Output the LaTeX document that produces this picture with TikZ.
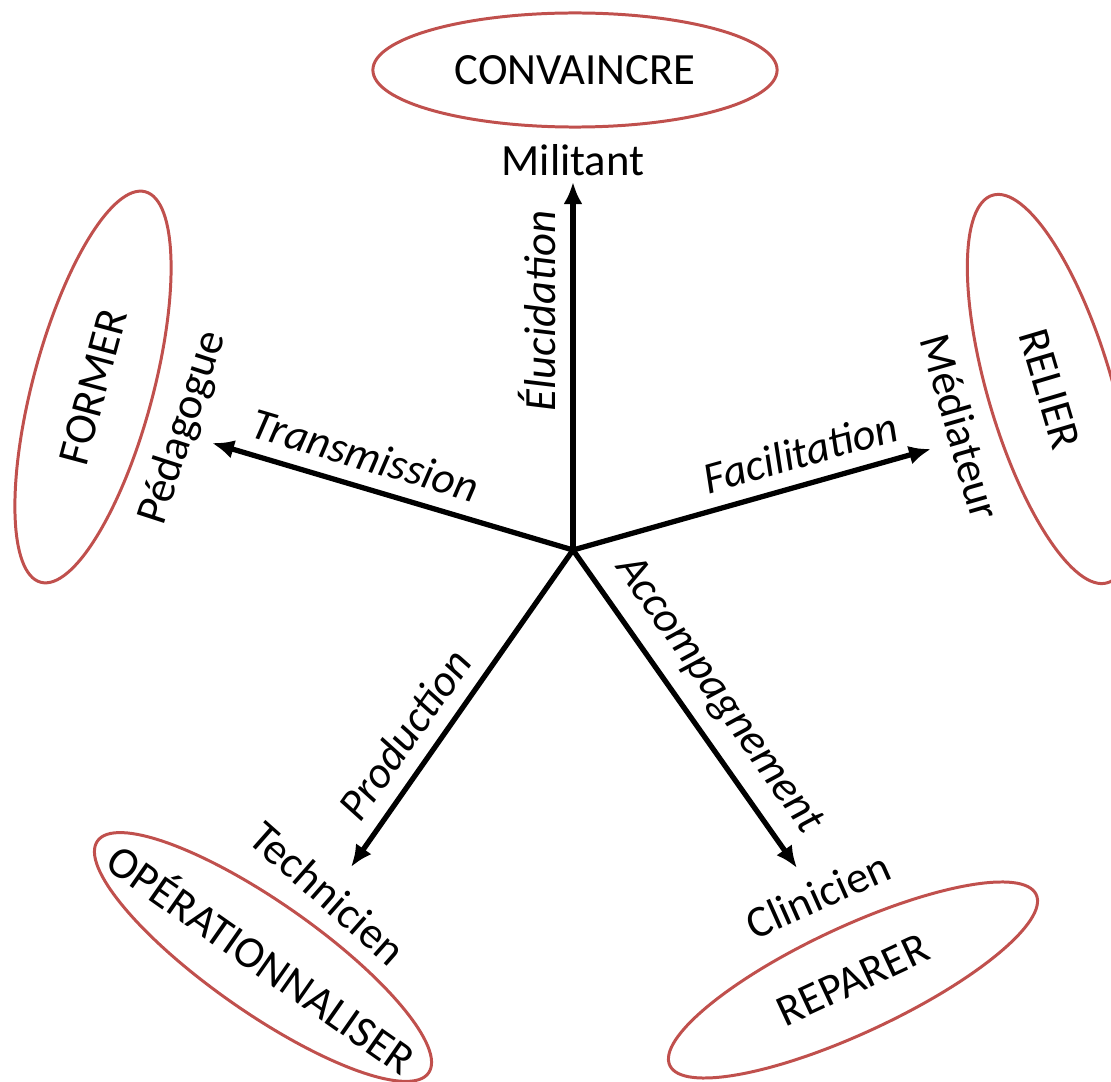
\documentclass[tikz,border=0pt]{standalone}
\usepackage{fontspec}
\setmainfont{Carlito}
\usepackage{xcolor}
\usetikzlibrary{shapes.geometric,arrows.meta,positioning}
\definecolor{ovalred}{HTML}{C0504D}

\begin{document}
\begin{tikzpicture}[x=0.01cm, y=-0.01cm,
    goal/.style={draw=ovalred, line width=0.85pt, ellipse, inner sep=0pt,
        minimum width=4.04cm, minimum height=1.14cm, font=\fontsize{12.7}{15}\selectfont},
    role/.style={inner sep=0pt, font=\fontsize{12.7}{15}\selectfont},
    axis/.style={line width=1.5pt, -{Latex[length=0.22cm, width=0.19cm]}},
    act/.style={sloped, above, inner sep=4pt, font=\fontsize{12.7}{15}\selectfont\itshape}]
    \useasboundingbox (0,0) rectangle (1111,1082);

    % Goals
    \node[goal] (convaincre) at (575,70) {\makebox[0pt]{CONVAINCRE}};
    \node[goal, rotate=75, minimum height=1.2cm] (former) at (93,387) {\makebox[0pt]{FORMER}};
    \node[goal, rotate=-73.5, minimum height=1.24cm] (relier) at (1050,389) {\makebox[0pt]{RELIER}};
    \node[goal, rotate=-35, minimum height=1.1cm] (operationnaliser) at (263,957) {\makebox[0pt]{OPÉRATIONNALISER}};
    \node[goal, rotate=25, minimum height=1.06cm] (reparer) at (853,980) {\makebox[0pt]{REPARER}};

    % Roles
    \node[role] (militant) at (573,160) {Militant};
    \node[role, rotate=72] (pedagogue) at (183,428) {Pédagogue};
    \node[role, rotate=-74] (mediateur) at (961,427) {Médiateur};
    \node[role, rotate=-41.5] (technicien) at (328,893) {Technicien};
    \node[role, rotate=24] (clinicien) at (818,895) {Clinicien};

    % Axes
    \coordinate (o) at (573,550);
    \coordinate (tipN) at (573,182);
    \coordinate (tipW) at (212,443);
    \coordinate (tipE) at (931,449);
    \coordinate (tipSW) at (351,867);
    \coordinate (tipSE) at (797,868);

    \draw[axis] (o) -- node[act, pos=0.65] {Élucidation} (tipN);
    \draw[axis] (o) -- node[act, pos=0.6] {Transmission} (tipW);
    \draw[axis] (o) -- node[act, pos=0.66] {Facilitation} (tipE);
    \draw[axis] (o) -- node[act, pos=0.64] {Production} (tipSW);
    \draw[axis] (o) -- node[act, pos=0.52] {Accompagnement} (tipSE);
\end{tikzpicture}
\end{document}
